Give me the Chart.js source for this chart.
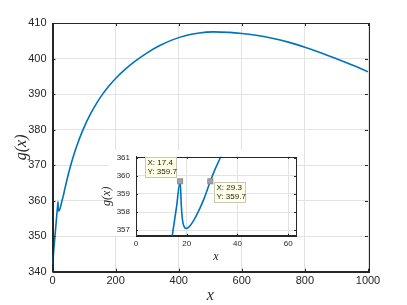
<!DOCTYPE html>
<html>
<head>
<meta charset="utf-8">
<script src="https://cdn.jsdelivr.net/npm/chart.js@4/dist/chart.umd.min.js"></script>
<style>
  html, body { margin: 0; padding: 0; background: #fff; }
  #wrap { position: relative; width: 407px; height: 305px; }
  #mainChart { position: absolute; left: 0; top: 0; }
  #insetChart { position: absolute; left: 92px; top: 146px; }
</style>
</head>
<body>
<div id="wrap">
  <canvas id="mainChart" width="407" height="305"></canvas>
  <canvas id="insetChart" width="210" height="125"></canvas>
</div>
<script>
// ── Data ────────────────────────────────────────────────
const xValues = [0, 4, 8, 12, 14.3, 16, 17.4, 17.9, 18.4, 19, 19.7, 21, 23, 25, 27, 29.3, 31, 33.4,
  40, 50, 60, 70, 80, 90, 100, 120, 140, 160, 180, 200, 230, 260, 300, 340, 380,
  420, 460, 510, 560, 600, 650, 700, 750, 800, 850, 900, 950, 1000];
const gValues = [342.0, 346.1, 350.2, 354.3, 356.7, 358.3, 359.7, 358.3, 357.5, 357.2, 357.1, 357.2, 357.6, 358.15, 358.8, 359.7, 360.3, 361.05,
  363.66, 367.36, 370.66, 373.56, 376.16, 378.51, 380.63, 384.33, 387.47, 390.13, 392.41, 394.39, 396.94, 399.13, 401.61, 403.65, 405.25,
  406.41, 407.13, 407.5, 407.35, 407.05, 406.5, 405.65, 404.55, 403.2, 401.65, 399.95, 398.15, 396.25];

const mainXTicks = [0, 200, 400, 600, 800, 1000];
const mainYTicks = [340, 350, 360, 370, 380, 390, 400, 410];
const insetXTicks = [0, 20, 40, 60];
const insetYTicks = [357, 358, 359, 360, 361];

// data tips shown in the inset
const tipX = [17.4, 29.3];
const tipY = [359.7, 359.7];

// ── Shared styling ──────────────────────────────────────
const AXIS = '#262626';
const GRID = '#e3e3e3';
const LINE = '#0072BD';
const SANS = '"Liberation Sans", Arial, Helvetica, sans-serif';
const SERIF = '"Liberation Serif", "Times New Roman", serif';

const points = xValues.map((x, i) => ({ x, y: gValues[i] }));

// box outline + inward tick marks on all four sides
const boxTicks = {
  id: 'boxTicks',
  afterDraw(chart, args, opts) {
    const { ctx, chartArea: a, scales: { x, y } } = chart;
    const len = opts.len || 3;
    ctx.save();
    ctx.strokeStyle = AXIS;
    ctx.lineWidth = 1;
    ctx.beginPath();
    x.ticks.forEach(t => {
      const px = Math.round(x.getPixelForValue(t.value)) + 0.5;
      ctx.moveTo(px, a.bottom); ctx.lineTo(px, a.bottom - len);
      ctx.moveTo(px, a.top); ctx.lineTo(px, a.top + len);
    });
    y.ticks.forEach(t => {
      const py = Math.round(y.getPixelForValue(t.value)) + 0.5;
      ctx.moveTo(a.left, py); ctx.lineTo(a.left + len, py);
      ctx.moveTo(a.right, py); ctx.lineTo(a.right - len, py);
    });
    ctx.stroke();
    ctx.strokeRect(Math.round(a.left) + 0.5, Math.round(a.top) + 0.5,
      Math.round(a.right - a.left), Math.round(a.bottom - a.top));
    ctx.restore();
  }
};

function axisCfg(opts) {
  return {
    type: 'linear',
    min: opts.min,
    max: opts.max,
    afterBuildTicks: s => { s.ticks = opts.ticks.map(v => ({ value: v })); },
    afterFit: s => { if (opts.width) s.width = opts.width; if (opts.height) s.height = opts.height; },
    grid: { color: GRID, lineWidth: 1, drawTicks: false },
    border: { color: AXIS, width: 1 },
    ticks: { color: AXIS, padding: opts.pad, maxRotation: 0, autoSkip: false,
             callback: v => String(v),
             font: { family: SANS, size: opts.fontSize } },
    title: { display: true, text: opts.title, color: AXIS,
             font: { family: SERIF, style: 'italic', size: opts.titleSize },
             padding: opts.titlePad }
  };
}

// ── Main chart ──────────────────────────────────────────
new Chart(document.getElementById('mainChart'), {
  type: 'line',
  data: {
    datasets: [{
      data: points,
      borderColor: LINE,
      borderWidth: 1.6,
      pointRadius: 0,
      cubicInterpolationMode: 'monotone',
      fill: false
    }]
  },
  options: {
    responsive: false,
    animation: false,
    devicePixelRatio: 1,
    layout: { padding: { left: 0, top: 23, right: 39, bottom: 0 } },
    plugins: { legend: { display: false }, tooltip: { enabled: false }, boxTicks: { len: 3 } },
    scales: {
      x: axisCfg({ min: 0, max: 1000, ticks: mainXTicks, height: 33.3, pad: 3, fontSize: 11,
                   title: 'x', titleSize: 16, titlePad: { top: 0, bottom: 0 } }),
      y: axisCfg({ min: 340, max: 410, ticks: mainYTicks, width: 52.5, pad: 6, fontSize: 11,
                   title: 'g(x)', titleSize: 16, titlePad: { top: 12, bottom: 0 } })
    }
  },
  plugins: [boxTicks]
});

// ── Inset chart ─────────────────────────────────────────
const insetBg = {
  id: 'insetBg',
  beforeDraw(chart) {
    const { ctx, chartArea: a } = chart;
    ctx.save();
    ctx.fillStyle = '#fff';
    ctx.fillRect(16, 4, a.right - 16, a.bottom - 4);
    ctx.restore();
  }
};

const dataTips = {
  id: 'dataTips',
  afterDraw(chart) {
    const { ctx, scales: { x, y } } = chart;
    // box offset relative to the marker: first tip up-left, second down-right
    const place = [{ dx: -34.7, dy: -24 }, { dx: 3.7, dy: 1 }];
    ctx.save();
    tipX.forEach((tx, i) => {
      const px = x.getPixelForValue(tx);
      const py = y.getPixelForValue(tipY[i]);
      const bx = Math.round(px + place[i].dx) + 0.5;
      const by = Math.round(py + place[i].dy) + 0.5;
      ctx.fillStyle = '#ffffe6';
      ctx.strokeStyle = '#c8c8b8';
      ctx.lineWidth = 1;
      ctx.fillRect(bx, by, 31, 20);
      ctx.strokeRect(bx, by, 31, 20);
      ctx.fillStyle = '#1a1a1a';
      ctx.font = '8px ' + SANS;
      ctx.textBaseline = 'middle';
      ctx.textAlign = 'left';
      ctx.fillText('X: ' + tx.toFixed(1), bx + 2, by + 5.5);
      ctx.fillText('Y: ' + tipY[i].toFixed(1), bx + 2, by + 14);
      // marker
      ctx.fillStyle = '#a3a3a3';
      ctx.strokeStyle = '#8c8c8c';
      ctx.fillRect(px - 2.5, py - 2.5, 5, 5);
      ctx.strokeRect(px - 2.5, py - 2.5, 5, 5);
    });
    ctx.restore();
  }
};

new Chart(document.getElementById('insetChart'), {
  type: 'line',
  data: {
    datasets: [{
      data: points,
      borderColor: LINE,
      borderWidth: 1.6,
      pointRadius: 0,
      cubicInterpolationMode: 'monotone',
      fill: false
    }]
  },
  options: {
    responsive: false,
    animation: false,
    devicePixelRatio: 1,
    layout: { padding: { left: 0, top: 7, right: 6, bottom: 0 } },
    plugins: { legend: { display: false }, tooltip: { enabled: false }, boxTicks: { len: 2 } },
    scales: {
      x: axisCfg({ min: 0, max: 63.1, ticks: insetXTicks, height: 35.3, pad: 3.5, fontSize: 8,
                   title: 'x', titleSize: 12, titlePad: { top: 0, bottom: 6.8 } }),
      y: axisCfg({ min: 356.7, max: 361.05, ticks: insetYTicks, width: 44, pad: 6, fontSize: 8,
                   title: 'g(x)', titleSize: 12, titlePad: { top: 7.8, bottom: 0 } })
    }
  },
  plugins: [insetBg, boxTicks, dataTips]
});
</script>
</body>
</html>
